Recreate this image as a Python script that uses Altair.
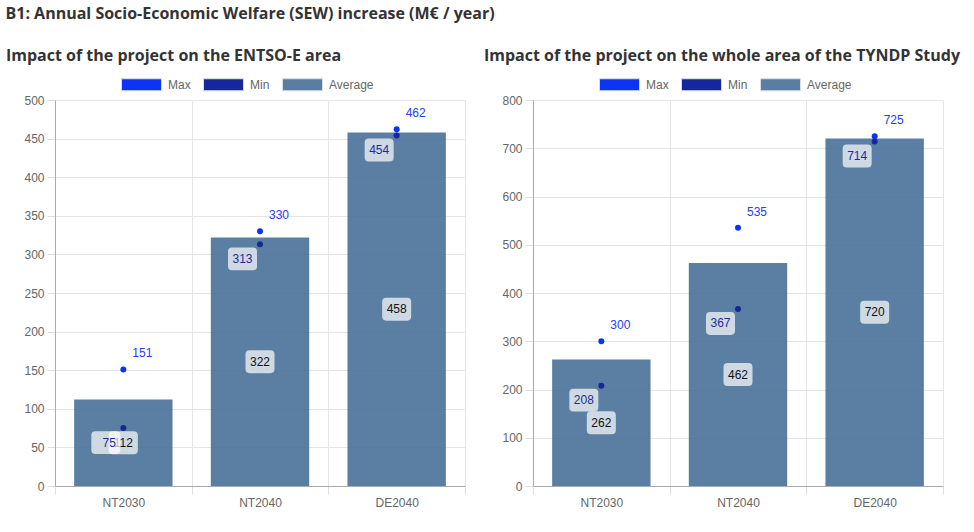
import altair as alt
import pandas as pd

# Scenarios and SEW values (M€ / year)
scenarios = ["NT2030", "NT2040", "DE2040"]

entsoe_max = [151, 330, 462]
entsoe_min = [75, 313, 454]
entsoe_avg = [112, 322, 458]

tyndp_max = [300, 535, 725]
tyndp_min = [208, 367, 714]
tyndp_avg = [262, 462, 720]

entsoe_ticks = [0, 50, 100, 150, 200, 250, 300, 350, 400, 450, 500]
tyndp_ticks = [0, 100, 200, 300, 400, 500, 600, 700, 800]

series_names = ["Max", "Min", "Average"]
series_colors = ["#0b34f6", "#15279a", "#5a7ea3"]

MAIN_TITLE = "B1: Annual Socio-Economic Welfare (SEW) increase (M€ / year)"
LEFT_TITLE = "Impact of the project on the ENTSO-E area"
RIGHT_TITLE = "Impact of the project on the whole area of the TYNDP Study"

TITLE_FONT = "Open Sans"
LABEL_FONT = "Liberation Sans"

# rounded label box (unit path, scaled by the point size)
BOX = ("M-0.72,-0.79L0.72,-0.79Q1,-0.79 1,-0.51L1,0.51Q1,0.79 0.72,0.79"
       "L-0.72,0.79Q-1,0.79 -1,0.51L-1,-0.51Q-1,-0.79 -0.72,-0.79Z")
LEGEND_BOX = "M-1,-0.3L1,-0.3L1,0.3L-1,0.3Z"

PW, PH = 410, 386


def panel(title, mx, mn, av, ticks):
    ymax = ticks[-1]
    avg_df = pd.DataFrame({"scenario": scenarios, "value": av})
    avg_df["mid"] = avg_df["value"] / 2
    max_df = pd.DataFrame({"scenario": scenarios, "value": mx, "series": "Max"})
    min_df = pd.DataFrame({"scenario": scenarios, "value": mn, "series": "Min"})

    x = alt.X(
        "scenario:N",
        sort=scenarios,
        scale=alt.Scale(paddingInner=0, paddingOuter=0),
        axis=alt.Axis(
            title=None, labelAngle=0, tickBand="extent", tickSize=8,
            labelPadding=3, labelColor="#666", labelFont=LABEL_FONT,
            labelFontSize=12, domainColor="#aaa", tickColor="#ddd",
            gridColor="#e6e6e6", grid=True,
        ),
    )
    yscale = alt.Scale(domain=[0, ymax], nice=False)
    yaxis = alt.Axis(
        title=None, values=ticks, tickSize=8, labelPadding=3,
        labelColor="#666", labelFont=LABEL_FONT, labelFontSize=12,
        domainColor="#aaa", tickColor="#ddd", gridColor="#e6e6e6", grid=True,
    )
    y = alt.Y("value:Q", scale=yscale, axis=yaxis)
    ymid = alt.Y("mid:Q", scale=yscale, axis=yaxis)

    bars = alt.Chart(avg_df).mark_bar(
        width={"band": 0.72}, color="#3e6893", opacity=0.85
    ).encode(x=x, y=y)

    avg_box = alt.Chart(avg_df).mark_point(
        shape=BOX, size=841, filled=True, fill="white", opacity=0.7, strokeWidth=0
    ).encode(x=x, y=ymid)

    avg_text = alt.Chart(avg_df).mark_text(
        font=LABEL_FONT, fontSize=12, color="#111", baseline="middle"
    ).encode(x=x, y=ymid, text="value:Q")

    color_scale = alt.Scale(domain=series_names, range=series_colors)
    color = alt.Color(
        "series:N",
        scale=color_scale,
        legend=alt.Legend(
            title=None, orient="none", direction="horizontal",
            legendX=66, legendY=-36, symbolType=LEGEND_BOX, symbolSize=1600,
            symbolOpacity=1, symbolStrokeColor="#dddddd", symbolStrokeWidth=1,
            labelFont=LABEL_FONT, labelFontSize=12, labelColor="#666",
            labelOffset=6, columnPadding=10, padding=0,
        ),
    )

    max_pts = alt.Chart(max_df).mark_point(
        filled=True, size=36, opacity=1
    ).encode(x=x, y=y, color=color)

    min_pts = alt.Chart(min_df).mark_point(
        filled=True, size=36, opacity=1
    ).encode(x=x, y=y, color=color)

    min_box = alt.Chart(min_df).mark_point(
        shape=BOX, size=841, filled=True, fill="white", opacity=0.7,
        strokeWidth=0, xOffset=-17.5, yOffset=14.5,
    ).encode(x=x, y=y)

    min_text = alt.Chart(min_df).mark_text(
        font=LABEL_FONT, fontSize=12, color="#1f2b9c", align="right",
        baseline="middle", dx=-7.5, dy=14.5,
    ).encode(x=x, y=y, text="value:Q")

    max_text = alt.Chart(max_df).mark_text(
        font=LABEL_FONT, fontSize=12, color="#1e40f0", align="left",
        baseline="middle", dx=9, dy=-16,
    ).encode(x=x, y=y, text="value:Q")

    return alt.layer(
        bars, avg_box, avg_text, max_pts, min_pts, min_box, min_text, max_text
    ).properties(
        width=PW, height=PH,
        title=alt.TitleParams(
            text=title, anchor="start", dx=-18, font=TITLE_FONT,
            fontSize=16, fontWeight="bold", color="#333", offset=0,
        ),
    )


left = panel(LEFT_TITLE, entsoe_max, entsoe_min, entsoe_avg, entsoe_ticks)
right = panel(RIGHT_TITLE, tyndp_max, tyndp_min, tyndp_avg, tyndp_ticks)

chart = alt.hconcat(left, right, spacing=17).resolve_legend(
    color="independent"
).properties(
    title=alt.TitleParams(
        text=MAIN_TITLE, anchor="start", font=TITLE_FONT, fontSize=16,
        fontWeight="bold", color="#333", offset=26,
    ),
    padding={"left": 5, "top": 5, "right": 5, "bottom": 5},
).configure_view(
    stroke="#e6e6e6"
).configure(background="white")

chart.save("out.html", embed_options={"renderer": "svg", "actions": False})
